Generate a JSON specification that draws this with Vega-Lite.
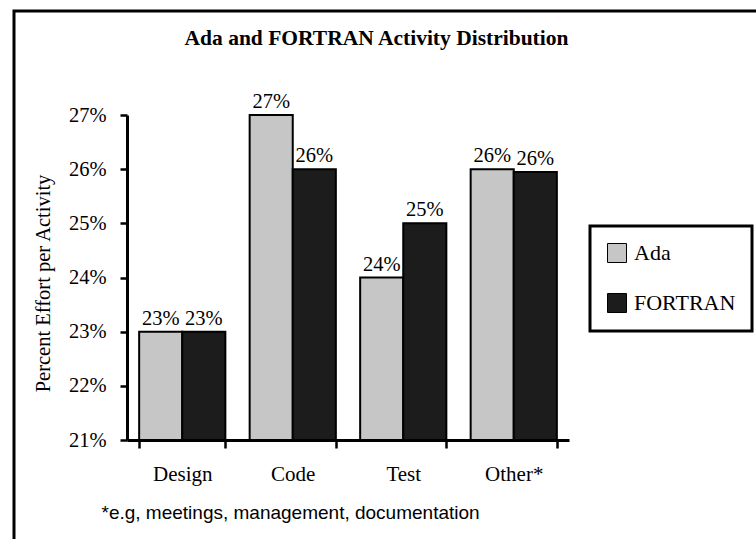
{
  "$schema": "https://vega.github.io/schema/vega-lite/v6.json",
  "width": 745,
  "height": 531,
  "autosize": "none",
  "padding": {"left": 14, "top": 11, "right": -3, "bottom": -3},
  "background": "white",
  "config": {
    "view": {"stroke": "black", "strokeWidth": 3, "fill": "white"},
    "font": "Liberation Serif",
    "legend": {"strokeWidth": 3}
  },
  "title": {
    "text": "Ada and FORTRAN Activity Distribution",
    "font": "Liberation Serif",
    "fontSize": 21.5,
    "fontWeight": "bold",
    "anchor": "middle",
    "offset": -55,
    "baseline": "alphabetic",
    "dx": -10,
    "color": "black"
  },
  "data": {
    "values": [
      {"activity": "Design", "language": "Ada", "pct": 0.23},
      {"activity": "Design", "language": "FORTRAN", "pct": 0.23},
      {"activity": "Code", "language": "Ada", "pct": 0.27},
      {"activity": "Code", "language": "FORTRAN", "pct": 0.26},
      {"activity": "Test", "language": "Ada", "pct": 0.24},
      {"activity": "Test", "language": "FORTRAN", "pct": 0.25},
      {"activity": "Other*", "language": "Ada", "pct": 0.26},
      {"activity": "Other*", "language": "FORTRAN", "pct": 0.2595}
    ]
  },
  "encoding": {
    "x": {
      "field": "activity",
      "type": "nominal",
      "sort": ["Design", "Code", "Test", "Other*"],
      "scale": {"range": [113, 555], "paddingInner": 0.22, "paddingOuter": 0.11},
      "axis": {
        "orient": "bottom",
        "offset": -102,
        "tickBand": "extent",
        "tickSize": 8,
        "tickWidth": 2.5,
        "tickColor": "black",
        "domainColor": "black",
        "domainWidth": 3,
        "labelAngle": 0,
        "labelFont": "Liberation Serif",
        "labelFontSize": 21,
        "labelColor": "black",
        "labelPadding": 15,
        "title": "*e.g, meetings, management, documentation",
        "titleFont": "Liberation Sans",
        "titleFontSize": 19,
        "titleFontWeight": "normal",
        "titleColor": "black",
        "titleAnchor": "start",
        "titleAlign": "left",
        "titleX": 87,
        "titleY": 78,
        "titleBaseline": "alphabetic",
        "grid": false
      }
    },
    "xOffset": {
      "field": "language",
      "type": "nominal",
      "sort": ["Ada", "FORTRAN"],
      "scale": {"paddingInner": 0, "paddingOuter": 0}
    },
    "y": {
      "field": "pct",
      "type": "quantitative",
      "scale": {"domain": [0.21, 0.27], "range": [429, 104], "nice": false, "zero": false},
      "axis": {
        "format": ".0%",
        "values": [0.21, 0.22, 0.23, 0.24, 0.25, 0.26, 0.27],
        "offset": -113,
        "domainColor": "black",
        "domainWidth": 3,
        "tickColor": "black",
        "tickWidth": 2.5,
        "tickSize": 7,
        "labelFont": "Liberation Serif",
        "labelFontSize": 20.5,
        "labelColor": "black",
        "labelPadding": 14,
        "title": "Percent Effort per Activity",
        "titleFont": "Liberation Serif",
        "titleFontSize": 20.5,
        "titleFontWeight": "normal",
        "titleColor": "black",
        "titleX": -84,
        "titleY": 272,
        "titleAngle": -90,
        "titleAlign": "center",
        "titleBaseline": "middle",
        "grid": false
      }
    }
  },
  "layer": [
    {
      "mark": {"type": "bar", "stroke": "black", "strokeWidth": 2},
      "encoding": {
        "y2": {"datum": 0.21},
        "color": {
          "field": "language",
          "type": "nominal",
          "sort": ["Ada", "FORTRAN"],
          "scale": {"range": ["#c6c6c6", "#1c1c1c"]},
          "legend": {
            "orient": "none",
            "legendX": 576,
            "legendY": 215,
            "direction": "vertical",
            "title": null,
            "symbolType": "square",
            "symbolSize": 361,
            "symbolStrokeColor": "black",
            "symbolStrokeWidth": 1,
            "labelFont": "Liberation Serif",
            "labelFontSize": 22,
            "labelColor": "black",
            "labelOffset": 6,
            "strokeColor": "black",
            "fillColor": "white",
            "padding": 16,
            "rowPadding": 26
          }
        }
      }
    },
    {
      "mark": {"type": "text", "baseline": "alphabetic", "dy": -7, "fontSize": 20.5, "font": "Liberation Serif", "color": "black"},
      "encoding": {
        "text": {"field": "pct", "type": "quantitative", "format": ".0%"}
      }
    }
  ]
}
